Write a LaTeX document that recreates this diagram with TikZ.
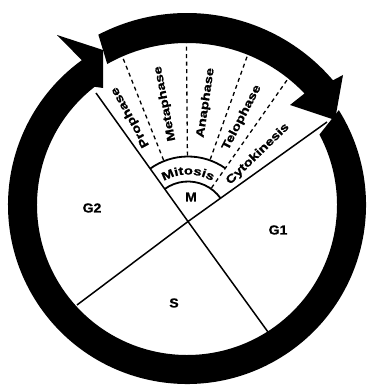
\documentclass[tikz,border=0pt]{standalone}
\usepackage{fontspec}
\setmainfont{Liberation Sans}
\newfontfamily\lblfam{Liberation Sans}[FakeStretch=1.28,FakeBold=1.2]
\newfontfamily\stgfam{Liberation Sans}[FakeStretch=1.08,FakeBold=0.8]
\newcommand\phasefont{\lblfam\bfseries\fontsize{11.5}{12}\selectfont}
\newcommand\stagefont{\stgfam\bfseries\fontsize{13}{14}\selectfont}
\usetikzlibrary{calc,decorations.text}
\begin{document}
\begin{tikzpicture}[x=1pt,y=1pt,
  divline/.style={line width=1.5pt, black},
  arcline/.style={line width=1.8pt, black},
  dashline/.style={line width=1.3pt, black, dash pattern=on 4pt off 3.5pt},
  phaselbl/.style={font=\phasefont, inner sep=0pt},
  stagelbl/.style={font=\stagefont, inner sep=0pt}]
\useasboundingbox (0,0) rectangle (367,386);
\coordinate (C) at (187,181);
\coordinate (X) at (188,164.5);
\coordinate (ul) at (96,293);
\coordinate (lr) at (268,54);
\coordinate (ur) at (327,264);
\coordinate (ll) at (77,81);
% dividing lines
\draw[divline] (X) -- (ul);
\draw[divline] (X) -- (lr);
\draw[divline] (X) -- (ur);
\draw[divline] (X) -- (ll);
% arcs around M
\draw[arcline] ($(X)+(125.7:40)$) arc[start angle=125.7, end angle=35.6, radius=40];
\draw[arcline] ($(X)+(125.7:65)$) arc[start angle=125.7, end angle=55, radius=65];
% dashed radial lines
\foreach \a in {111.7,90.5,70.3}
  \draw[dashline] ($(X)+(\a:66)$) -- ($(X)+(\a:185)$);
\draw[dashline] ($(X)+(55:41)$) -- ($(X)+(55:185)$);
% phase labels
\node[phaselbl, rotate=119] (pro) at ($(X)+(119:119)$) {Prophase};
\node[phaselbl, rotate=101] (meta) at ($(X)+(101:120)$) {Metaphase};
\node[phaselbl, rotate=81.5] (ana) at ($(X)+(81.5:120)$) {Anaphase};
\node[phaselbl, rotate=62.6] (telo) at ($(X)+(62.6:117)$) {Telophase};
\node[phaselbl, rotate=44] (cyto) at ($(X)+(44:97)$) {Cytokinesis};
\path[decorate, decoration={text along path, text={|\phasefont|Mitosis}, text align=center}]
  ($(X)+(124:47)$) arc[start angle=124, end angle=56, radius=47];
% stage labels
\node[stagelbl] (g2) at (92,178) {G2};
\node[stagelbl] (g1) at (278,156) {G1};
\node[stagelbl] (s) at (174,83) {S};
\node[stagelbl] (m) at (191,189) {M};
% main ring with arrowhead
\fill[black] ($(C)+(28:150)$) -- ($(C)+(32:179)$) arc[start angle=32, end angle=-234, radius=179]
  -- (57,351) -- (103,336) -- (103,298) -- ($(C)+(-232:150)$)
  arc[start angle=-232, end angle=28, radius=150] -- cycle;
% mitosis band with arrowhead
\fill[black] ($(C)+(117.5:192)$) arc[start angle=117.5, end angle=40.5, radius=192]
  -- (343,311) -- (335,266) -- (290,281) -- ($(C)+(43.5:162)$)
  arc[start angle=43.5, end angle=119.5, radius=162] -- cycle;
\end{tikzpicture}
\end{document}
